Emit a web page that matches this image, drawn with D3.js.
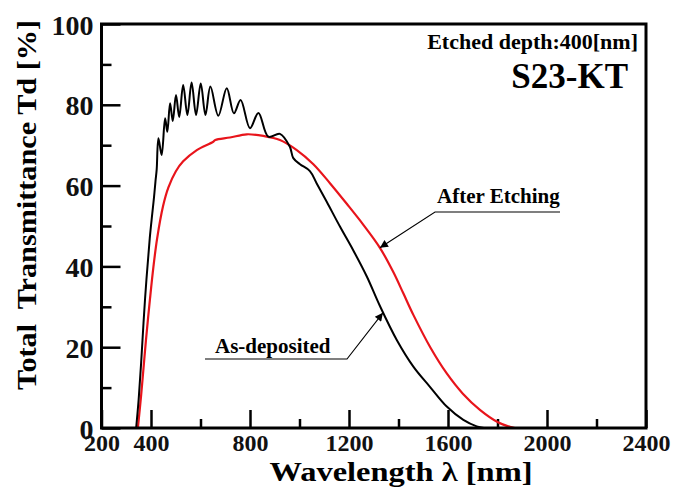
<!DOCTYPE html>
<html>
  <head>
    <meta charset="utf-8">
    <title>S23-KT total transmittance</title>
    <script src="https://d3js.org/d3.v7.min.js"></script>
    <style>
      body { margin: 0; background: #fff; }
      svg { display: block; font-family: "Liberation Serif", "Times New Roman", serif; font-weight: bold; }
      .tick text { font-family: "Liberation Serif", "Times New Roman", serif; font-weight: bold; fill: #111; }
      .tick line { stroke: #000; stroke-width: 2.5; }
    </style>
  </head>
  <body>
    <svg id="chart" width="675" height="490"></svg>
    <script>
      // data: wavelength [nm], transmittance [%]
      const asDepWave = [340, 350, 360, 376, 395, 405, 412, 418, 423, 430, 443, 457, 466, 477, 488, 501, 514, 530, 547, 564, 582, 601, 620, 640, 672, 706, 735, 762, 800, 834, 874, 921, 961, 975, 1002, 1042, 1069, 1110, 1164, 1217, 1272, 1325, 1393, 1460, 1527, 1595, 1662, 1716, 1745];
      const asDepT = [0, 7, 16, 32, 47, 53, 57, 61, 64, 71.7, 67.6, 76.7, 73.3, 80.4, 76, 82.4, 77, 84.9, 77.5, 85.5, 77.5, 85.3, 77.5, 84.5, 77.3, 84.1, 77.9, 81.2, 74.2, 78, 72.1, 72.8, 69.6, 66.8, 65.3, 63.6, 60.6, 56, 49.8, 44, 37.5, 30.2, 21.8, 15.2, 10.2, 5.3, 2, 0.4, 0];
      const etchWave = [347, 360, 370, 380, 396, 410, 425, 449, 470, 500, 530, 585, 650, 660, 719, 787, 854, 921, 989, 1056, 1123, 1191, 1258, 1325, 1379, 1419, 1460, 1530, 1595, 1660, 1729, 1800, 1850, 1870];
      const etchT = [0, 8, 15, 22, 32, 40, 47, 55, 59.5, 63.5, 66, 68.8, 70.8, 71.3, 71.9, 72.7, 72.3, 71.3, 68.8, 65.3, 60.6, 55.5, 50.3, 44.6, 38.6, 33.4, 28, 19.8, 13.5, 8.5, 4.5, 1.5, 0.3, 0];
      const xMajor = [200, 400, 800, 1200, 1600, 2000, 2400];
      const xMinor = [600, 1000, 1400, 1800, 2200];
      const yMajor = [0, 20, 40, 60, 80, 100];
      const yMinor = [10, 30, 50, 70, 90];

      const svg = d3.select("#chart");
      const plot = { left: 101.5, right: 646, top: 24, bottom: 428 };

      const x = d3.scaleLinear().domain([200, 2400]).range([plot.left, plot.right]);
      const y = d3.scaleLinear().domain([0, 100]).range([plot.bottom, plot.top]);

      // minor ticks
      svg.append("g")
        .attr("transform", "translate(0," + plot.bottom + ")")
        .call(d3.axisBottom(x).tickValues(xMinor).tickSize(-9).tickFormat(""))
        .call(function(g) { g.select(".domain").remove(); });
      svg.append("g")
        .attr("transform", "translate(" + plot.left + ",0)")
        .call(d3.axisLeft(y).tickValues(yMinor).tickSize(-10).tickFormat(""))
        .call(function(g) { g.select(".domain").remove(); });

      // major ticks with labels
      svg.append("g")
        .attr("transform", "translate(0," + plot.bottom + ")")
        .call(d3.axisBottom(x).tickValues(xMajor).tickSize(-18).tickPadding(6).tickFormat(d3.format("d")))
        .call(function(g) {
          g.select(".domain").remove();
          g.selectAll("text").style("font-size", "24px");
        });
      svg.append("g")
        .attr("transform", "translate(" + plot.left + ",0)")
        .call(d3.axisLeft(y).tickValues(yMajor).tickSize(-19).tickPadding(8).tickFormat(d3.format("d")))
        .call(function(g) {
          g.select(".domain").remove();
          g.selectAll("text").style("font-size", "28px").attr("dy", "0.36em");
        });

      // curves
      const line = d3.line()
        .x(function(d) { return x(d[0]); })
        .y(function(d) { return y(Math.max(0, d[1])); })
        .curve(d3.curveCatmullRom.alpha(0.5));
      svg.append("path")
        .datum(d3.zip(etchWave, etchT))
        .attr("fill", "none")
        .attr("stroke", "#e8141b")
        .attr("stroke-width", 2.2)
        .attr("d", line);
      svg.append("path")
        .datum(d3.zip(asDepWave, asDepT))
        .attr("fill", "none")
        .attr("stroke", "#000")
        .attr("stroke-width", 2)
        .attr("d", line);

      // frame
      svg.append("rect")
        .attr("x", plot.left).attr("y", plot.top)
        .attr("width", plot.right - plot.left).attr("height", plot.bottom - plot.top)
        .attr("fill", "none").attr("stroke", "#000").attr("stroke-width", 3);

      // axis titles
      svg.append("text")
        .attr("x", 401).attr("y", 481)
        .attr("text-anchor", "middle")
        .attr("textLength", 263).attr("lengthAdjust", "spacingAndGlyphs")
        .style("font-size", "28px")
        .text("Wavelength  λ [nm]");
      svg.append("text")
        .attr("transform", "translate(36,205) rotate(-90)")
        .attr("text-anchor", "middle")
        .attr("textLength", 370).attr("lengthAdjust", "spacingAndGlyphs")
        .style("font-size", "28px")
        .style("white-space", "pre")
        .text("Total  Transmittance Td [%]");

      // sample labels
      svg.append("text")
        .attr("x", 638).attr("y", 49)
        .attr("text-anchor", "end")
        .style("font-size", "22px")
        .text("Etched depth:400[nm]");
      svg.append("text")
        .attr("x", 628).attr("y", 88)
        .attr("text-anchor", "end")
        .style("font-size", "35px")
        .text("S23-KT");

      // leader arrows
      const defs = svg.append("defs");
      defs.append("marker")
        .attr("id", "head")
        .attr("viewBox", "0 0 10 10")
        .attr("refX", 10).attr("refY", 5)
        .attr("markerWidth", 11).attr("markerHeight", 8)
        .attr("markerUnits", "userSpaceOnUse")
        .attr("orient", "auto")
        .append("path")
          .attr("d", "M0,0L10,5L0,10Z")
          .attr("fill", "#000");

      const notes = [
        { label: "After Etching", tx: 437, ty: 203, line: [[560, 212], [435, 212]], tip: [1325, 44.6] },
        { label: "As-deposited", tx: 215, ty: 353, line: [[205, 359], [347, 359]], tip: [1337, 28.5] }
      ];
      notes.forEach(function(n) {
        svg.append("text")
          .attr("x", n.tx).attr("y", n.ty)
          .style("font-size", "21px")
          .text(n.label);
        const pts = n.line.concat([[x(n.tip[0]), y(n.tip[1])]]);
        svg.append("path")
          .attr("d", d3.line()(pts))
          .attr("fill", "none")
          .attr("stroke", "#000")
          .attr("stroke-width", 1.1)
          .attr("marker-end", "url(#head)");
      });
    </script>
  </body>
</html>
